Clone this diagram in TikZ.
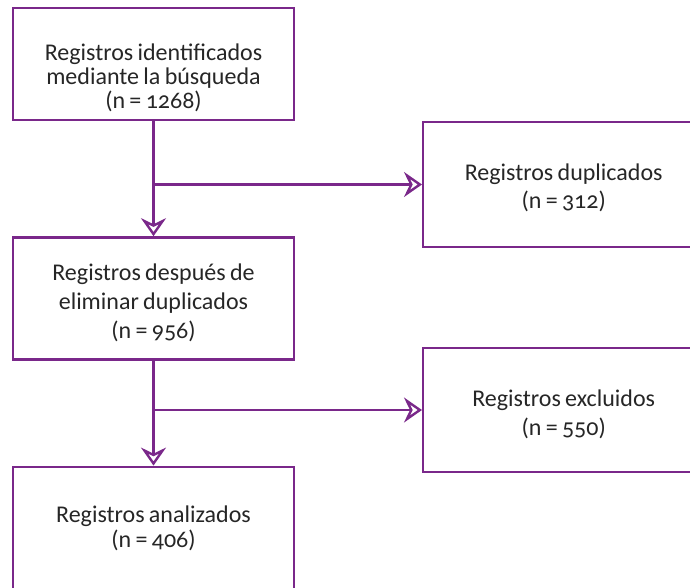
\documentclass[tikz,border=0pt]{standalone}
\usepackage{fontspec}
\setmainfont[Numbers=OldStyle, WordSpace=0.8]{Carlito}
\usetikzlibrary{arrows.meta, positioning}
\definecolor{flowpurple}{RGB}{122,40,138}
\tikzstyle{box} = [rectangle, minimum width=281pt, align=center, draw=flowpurple, line width=2.4pt, font=\fontsize{24}{29}\selectfont, text=black!85]
\tikzstyle{sidebox} = [box, anchor=west]
\tikzstyle{arrow} = [draw=flowpurple, line width=2.4pt, -{Stealth[open, length=18pt, width=25pt, inset=6pt, line width=2.4pt]}]

\begin{document}
\begin{tikzpicture}[x=1pt, y=1pt]
\clip (0,0) rectangle (690,-587);
\useasboundingbox (0,0) rectangle (690,-587);

% Identificacion
\node (identificados) [box, minimum height=112pt, font=\fontsize{24}{24}\selectfont] at (153.5,-64) {
    \rule{0pt}{44pt}Registros identificados \\
    mediante la búsqueda \\
    (n = 1268)
};

% Tras eliminar duplicados
\node (depurados) [box, minimum height=122pt, below=115pt of identificados] {
    \rule{0pt}{26pt}Registros después de \\
    eliminar duplicados \\
    (n = 956)
};

% Analizados
\node (analizados) [box, minimum height=124pt, below=105pt of depurados, font=\fontsize{24}{25}\selectfont] {
    Registros analizados \\
    (n = 406)
};

% Duplicados
\node (duplicados) [sidebox, minimum height=125pt, font=\fontsize{24}{28}\selectfont] at (422,-184.5) {
    \rule{0pt}{24pt}Registros duplicados \\
    (n = 312)
};

% Excluidos
\node (excluidos) [sidebox, minimum height=124pt] at (422,-410) {
    \rule{0pt}{26pt}Registros excluidos \\
    (n = 550)
};

% Flechas
\coordinate (rama1) at (identificados.south |- duplicados.west);
\coordinate (rama2) at (depurados.south |- excluidos.west);
\draw [arrow] (identificados) -- (depurados);
\draw [arrow] (depurados) -- (analizados);
\draw [arrow] (rama1) -- (duplicados);
\draw [arrow] (rama2) -- (excluidos);

\end{tikzpicture}
\end{document}
